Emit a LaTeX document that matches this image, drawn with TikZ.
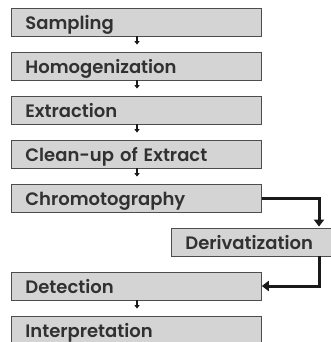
\documentclass[tikz,border=0pt]{standalone}
\usepackage{fontspec}
\setmainfont{Poppins}[BoldFont={Poppins SemiBold}]
\usetikzlibrary{positioning, arrows.meta, calc}

\definecolor{boxfill}{HTML}{D4D4D4}
\definecolor{boxline}{HTML}{4D4D4D}
\definecolor{flowline}{HTML}{1A1A1A}

\tikzset{
    stepbox/.style={draw=boxline, fill=boxfill, line width=0.8pt, anchor=west,
        minimum height=28pt, text width=222pt, inner xsep=14pt, inner ysep=0pt,
        text height=15pt, text depth=0pt,
        align=left, font=\fontsize{18}{21}\selectfont\bfseries, text=flowline!90!white},
    smallarrow/.style={draw=flowline, line width=1.2pt, -{Triangle[width=5pt,length=3.5pt]}},
    bigarrow/.style={draw=flowline, line width=3pt, -{Triangle[width=10pt,length=7pt]}}
}

\begin{document}
\begin{tikzpicture}[x=1pt,y=-1pt]
                
                \useasboundingbox (0,0) rectangle (331,342);
                \clip (0,0) rectangle (331,342);
                
                %Main steps
                \foreach \name/\row/\descr in {samp/0/Sampling, homo/1/Homogenization, extr/2/Extraction, clean/3/Clean-up of Extract, chrom/4/Chromotography, detect/6/Detection, interp/7/Interpretation}
                \node[stepbox] (\name) at (11, 22+44*\row) {\descr};
                
                %Side step
                \node[stepbox, text width=160pt] (deriv) at (171, 242) {Derivatization};
                
                %Small arrows
                \foreach \a/\b in {samp/homo, homo/extr, extr/clean, clean/chrom, detect/interp}
                \draw[smallarrow] ($(\a.south west)+(126,0)$) -- ($(\b.north west)+(126,-7)$);
                
                %Detour through derivatization
                \draw[bigarrow] (chrom.east) -| ($(deriv.north west)+(148,-1)$);
                \draw[bigarrow] ($(deriv.south west)+(148,0)$) |- (detect.east);
                    
            \end{tikzpicture}
\end{document}
